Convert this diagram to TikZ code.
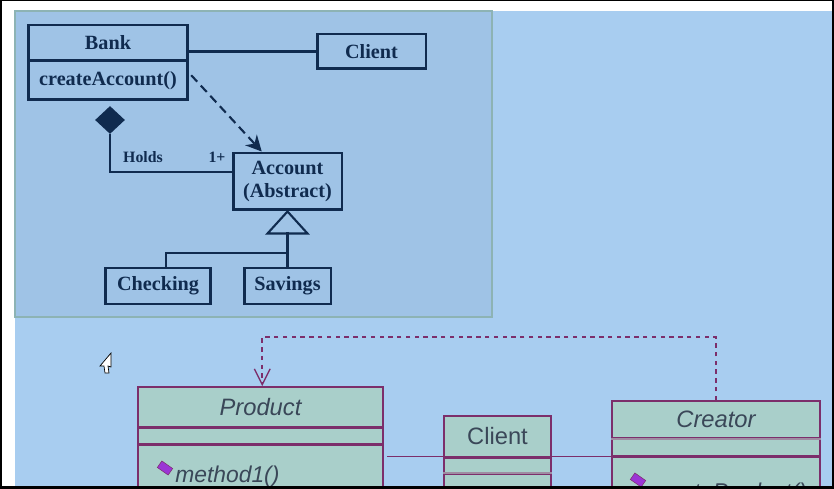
\documentclass[tikz,border=0pt]{standalone}
\usepackage{fontspec}
\setmainfont{Liberation Serif}
\setsansfont{Liberation Sans}
\usepackage{tikz}
\usetikzlibrary{arrows.meta,shapes.geometric,calc}
\definecolor{navy}{HTML}{102B4F}
\definecolor{panelfill}{HTML}{9FC3E6}
\definecolor{panelline}{HTML}{8DB3B4}
\definecolor{skyblue}{HTML}{A8CDF0}
\definecolor{umlline}{HTML}{7C2E6B}
\definecolor{umlfaint}{HTML}{9E8CA2}
\definecolor{umlfill}{HTML}{A9CFCA}
\definecolor{umltext}{HTML}{3A4758}
\definecolor{opicon}{HTML}{9B35D5}
\tikzstyle{cls}=[rectangle, draw=navy, line width=1.7pt, inner sep=0pt,% bold boxes of the small panel
font=\bfseries\fontsize{11.5}{13}\selectfont, text=navy, align=center]
\tikzstyle{rel}=[draw=navy, line width=1.2pt]
\tikzstyle{umlbox}=[rectangle, draw=umlline, line width=0.9pt, fill=umlfill, inner sep=0pt,% boxes of the lower diagram
font=\sffamily\fontsize{13.5}{15}\selectfont, text=umltext]
\tikzstyle{umlrel}=[draw=umlline, line width=0.9pt]
\tikzstyle{opmark}=[rectangle, fill=opicon, draw=umlline, line width=0.3pt, rotate=-35,
minimum width=7.5pt, minimum height=4.5pt, inner sep=0pt]

\begin{document}
\begin{tikzpicture}[x=0.02cm, y=-0.02cm]
\useasboundingbox (0,0) rectangle (834,489);

\fill[white] (0,0) rectangle (834,489);
\fill[skyblue] (15,11) rectangle (832,487);
\filldraw[fill=panelfill, draw=panelline, line width=1.2pt] (15,11) rectangle (492,317);

\node[cls, minimum width=3.2cm, minimum height=0.72cm] (bank) at (108,43) {Bank};
\node[cls, minimum width=3.2cm, minimum height=0.78cm] (bankop) at (108,80.5) {createAccount()};
\node[cls, minimum width=2.18cm, minimum height=0.7cm] (client) at (371.5,51.5) {Client};
\node[cls, minimum width=2.18cm, minimum height=1.14cm] (account) at (287.5,181.5) {Account\\(Abstract)};
\node[cls, minimum width=2.12cm, minimum height=0.72cm] (checking) at (158,286) {Checking};
\node[cls, minimum width=1.74cm, minimum height=0.72cm] (savings) at (287.5,286) {Savings};
\node[diamond, fill=navy, inner sep=0pt, minimum width=0.6cm, minimum height=0.56cm] (holds) at (110,120) {};
\node[font=\bfseries\fontsize{9}{10}\selectfont, text=navy] (holdslbl) at (143,157) {Holds};
\node[font=\bfseries\fontsize{9}{10}\selectfont, text=navy] (mult) at (217,157) {1+};

\draw[rel] (client.west -| bank.east) -- (client.west);
\draw[rel, dash pattern=on 5pt off 3pt, -{Stealth[length=9pt,width=9pt]}] ([xshift=1pt,yshift=3pt]bankop.east) -- ($(account.north west)!0.27!(account.north east)$);
\draw[rel] (holds.south) |- ([yshift=5.4pt]account.west);

\coordinate (tri) at (287.5,232);
\coordinate (split) at (287.5,253);
\draw[rel, line join=miter] (account.south) -- ++(-20,22) -- ++(40,0) -- cycle;
\draw[rel] (tri) -- (savings.north);
\draw[rel] (split) -| ([xshift=4.5pt]checking.north);

\begin{scope}
\clip (15,11) rectangle (832,486);
\node[umlbox, minimum width=4.9cm, minimum height=0.8cm] (product) at (260.5,407) {\itshape Product};
\node[umlbox, minimum width=4.9cm, minimum height=0.3cm, anchor=north] (prodattr) at (product.south) {};
\node[umlbox, minimum width=4.9cm, minimum height=1.2cm, anchor=north] (prodops) at (prodattr.south) {};
\node[umlbox, minimum width=2.14cm, minimum height=0.82cm] (cli) at (497.5,436.5) {Client};
\node[umlbox, minimum width=2.14cm, minimum height=0.28cm, anchor=north] (cliattr) at (cli.south) {};
\node[umlbox, minimum width=2.14cm, minimum height=0.6cm, anchor=north] (cliops) at (cliattr.south) {};
\node[umlbox, minimum width=4.16cm, minimum height=0.74cm] (creator) at (716,419.5) {\itshape Creator};
\node[umlbox, minimum width=4.16cm, minimum height=0.32cm, anchor=north] (creatorattr) at (creator.south) {};
\node[umlbox, minimum width=4.16cm, minimum height=0.8cm, anchor=north] (creatorops) at (creatorattr.south) {};
\draw[umlfaint, line width=1.2pt] (cliattr.south west) -- (cliattr.south east);
\draw[umlfaint, line width=1.2pt] (creator.south west) -- (creator.south east);

\node[opmark] (m1icon) at (165,468) {};
\node[anchor=base west, inner sep=0pt, font=\sffamily\itshape\fontsize{13}{15}\selectfont, text=umltext] (m1) at (175,482) {method1()};
\node[opmark] (cpicon) at (638,480) {};
\node[anchor=base west, inner sep=0pt, font=\sffamily\itshape\fontsize{13}{15}\selectfont, text=umltext] (cp) at (649,499) {createProduct()};

\draw[umlrel] ([xshift=2pt]prodops.east |- creatorattr.south) -- (cli.west |- creatorattr.south);
\draw[umlrel] (cli.east |- creatorattr.south) -- (creatorattr.south west);
\draw[umlrel, dash pattern=on 2.5pt off 2.5pt, -{Straight Barb[length=9pt,width=9pt,line width=0.8pt]}] (creator.north) -- (creator.north |- 0,337) -| ([xshift=1pt]product.north);
\end{scope}

% pointer left on the screen
\filldraw[fill=white, draw=black, line width=0.4pt] (111,353) -- (111,367) -- (108,366) -- (109,373) -- (105,373) -- (104,366) -- (100,366) -- cycle;

\fill[black] (0,0) rectangle (2,489);
\fill[black] (0,0) rectangle (834,1);
\fill[black] (832,0) rectangle (834,489);
\fill[black] (0,486) rectangle (834,489);
\end{tikzpicture}
\end{document}
